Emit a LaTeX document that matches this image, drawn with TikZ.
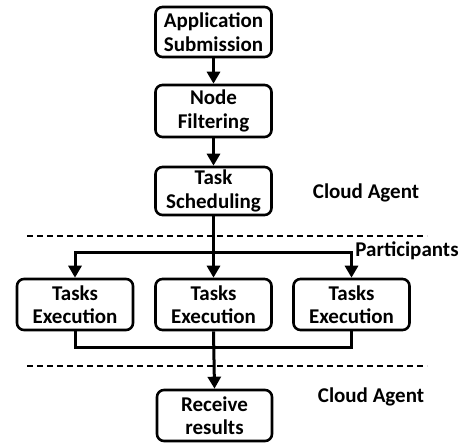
\documentclass[tikz,border=0pt]{standalone}
\usepackage{fontspec}
\setmainfont{Carlito}
\usetikzlibrary{arrows.meta}
\begin{document}
\begin{tikzpicture}[x=1pt,y=-1pt,
  box/.style={draw, line width=2.6pt, rounded corners=7pt, minimum width=116pt, minimum height=50pt, align=center, inner sep=0pt, font=\fontsize{21}{23.5}\selectfont\bfseries},
  lbl/.style={font=\fontsize{21}{23.5}\selectfont\bfseries, inner sep=0pt},
  conn/.style={line width=3pt, -{Triangle[width=13pt,length=12pt]}},
  link/.style={line width=3pt},
  sep/.style={line width=1.3pt, dash pattern=on 6pt off 4pt}]
\useasboundingbox (0,0) rectangle (470,443);
\node[box] (a) at (213.5,32) {Application\\Submission};
\node[box, minimum height=52pt] (b) at (213.5,111) {Node\\Filtering};
\node[box, minimum height=48pt] (c) at (213.5,191) {Task\\Scheduling};
\node[box, minimum height=51pt] (t1) at (75,304.5) {Tasks\\Execution};
\node[box, minimum height=51pt] (t2) at (213.5,304.5) {Tasks\\Execution};
\node[box, minimum height=51pt] (t3) at (351.5,304.5) {Tasks\\Execution};
\node[box, minimum width=115pt, minimum height=51pt] (r) at (214.5,415.5) {Receive\\results};
\node[lbl] (ca1) at (366,193) {Cloud Agent};
\node[lbl] (pa) at (407,251) {Participants};
\node[lbl] (ca2) at (371,397) {Cloud Agent};
\coordinate (s) at (213.5,252);
\coordinate (m) at (213.5,347);
\coordinate (d1a) at (27,236);
\coordinate (d1b) at (427,236);
\coordinate (d2a) at (27,366);
\coordinate (d2b) at (427,366);
\draw[sep] (d1a) -- (d1b);
\draw[sep] (d2a) -- (d2b);
\draw[conn] (a) -- (b);
\draw[conn] (b) -- (c);
\draw[conn] (c.south) -- (t2.north);
\draw[conn] (c.south) -- (s) -| (t1.north);
\draw[conn] (c.south) -- (s) -| (t3.north);
\draw[link] (t1.south) |- (m) -| (t3.south);
\draw[conn] (t2.south) -- (r.north);
\end{tikzpicture}
\end{document}
